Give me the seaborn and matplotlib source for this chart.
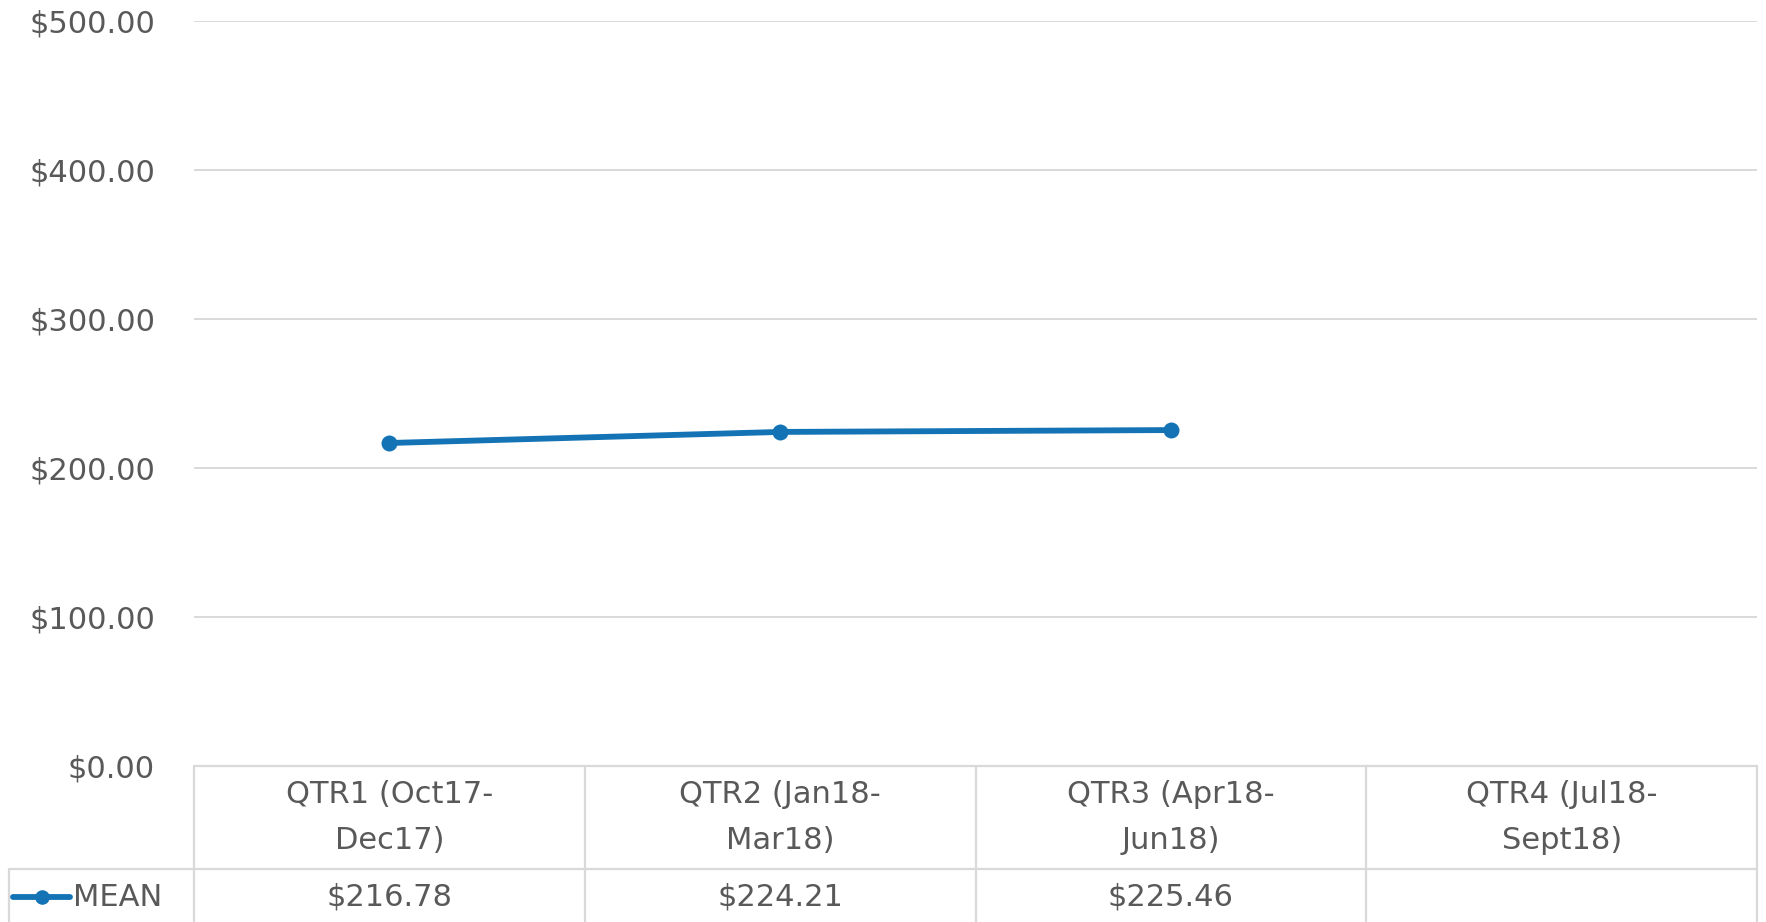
import numpy as np
import pandas as pd
import matplotlib
matplotlib.use("Agg")
import matplotlib.pyplot as plt
import matplotlib.transforms as mtransforms
from matplotlib.ticker import FuncFormatter
import seaborn as sns

# Quarterly mean values
quarters = ["QTR1 (Oct17-\nDec17)", "QTR2 (Jan18-\nMar18)",
            "QTR3 (Apr18-\nJun18)", "QTR4 (Jul18-\nSept18)"]
mean_values = [216.78, 224.21, 225.46, np.nan]
series_name = "MEAN"
y_ticks = [0, 100, 200, 300, 400, 500]

sns.set_theme(style="white")
plt.rcParams["font.family"] = ["DejaVu Sans"]

TEXT = "#595959"
GRID = "#D9D9D9"
LINE = "#1473B5"
FS = 22
LW = 4.2

W, H = 1766, 922
fig = plt.figure(figsize=(W / 100, H / 100), dpi=100)
left_px, right_px, top_px, bottom_px = 194, 1757, 21, 766
ax = fig.add_axes([left_px / W, (H - bottom_px) / H,
                   (right_px - left_px) / W, (bottom_px - top_px) / H])

df = pd.DataFrame({"pos": np.arange(len(quarters)) + 0.5,
                   "value": mean_values})
sns.lineplot(data=df.dropna(), x="pos", y="value", ax=ax, color=LINE,
             linewidth=LW, marker="o", markersize=11.5,
             markeredgewidth=0, legend=False)

ax.set_xlim(0, len(quarters))
ax.set_ylim(0, 500)
ax.set_yticks(y_ticks)
ax.yaxis.set_major_formatter(FuncFormatter(lambda v, _: f"${v:,.2f}"))
ax.tick_params(axis="y", length=0, pad=28, labelsize=FS, labelcolor=TEXT)
ax.set_xticks([])
ax.set_xlabel("")
ax.set_ylabel("")
for s in ax.spines.values():
    s.set_visible(False)
for t in y_ticks[1:]:
    ax.axhline(t, color=GRID, linewidth=1.4, zorder=0)

# Data table below the plot area (axes-fraction vertical coordinates)
axes_h = bottom_px - top_px
header_bottom = -(869 - bottom_px) / axes_h
table_bottom = -(H - bottom_px) / axes_h - 0.01
row_text_y = -(897 - bottom_px) / axes_h
legend_left = (9 - left_px) / ((right_px - left_px) / len(quarters))
trans = mtransforms.blended_transform_factory(ax.transData, ax.transAxes)
lkw = dict(color=GRID, linewidth=1.6, transform=trans, clip_on=False)

n = len(quarters)
ax.plot([0, n], [0, 0], **lkw)
ax.plot([legend_left, n], [header_bottom, header_bottom], **lkw)
for i in range(n + 1):
    ax.plot([i, i], [0, table_bottom], **lkw)
ax.plot([legend_left, legend_left], [header_bottom, table_bottom], **lkw)

for i, (q, v) in enumerate(zip(quarters, mean_values)):
    ax.text(i + 0.5, header_bottom / 2, q, transform=trans, ha="center",
            va="center", fontsize=FS, color=TEXT, linespacing=1.75)
    if not np.isnan(v):
        ax.text(i + 0.5, row_text_y, f"${v:,.2f}", transform=trans,
                ha="center", va="center", fontsize=FS, color=TEXT)

# Legend key inside the table row
fig.add_artist(plt.Line2D([13 / W, 70 / W], [(H - 897) / H] * 2,
                          color=LINE, linewidth=LW))
fig.add_artist(plt.Line2D([42 / W], [(H - 897) / H], color=LINE,
                          marker="o", markersize=10.5, markeredgewidth=0))
fig.text(73 / W, (H - 897) / H, series_name, ha="left", va="center",
         fontsize=FS, color=TEXT)

fig.savefig("out.png", dpi=100)
